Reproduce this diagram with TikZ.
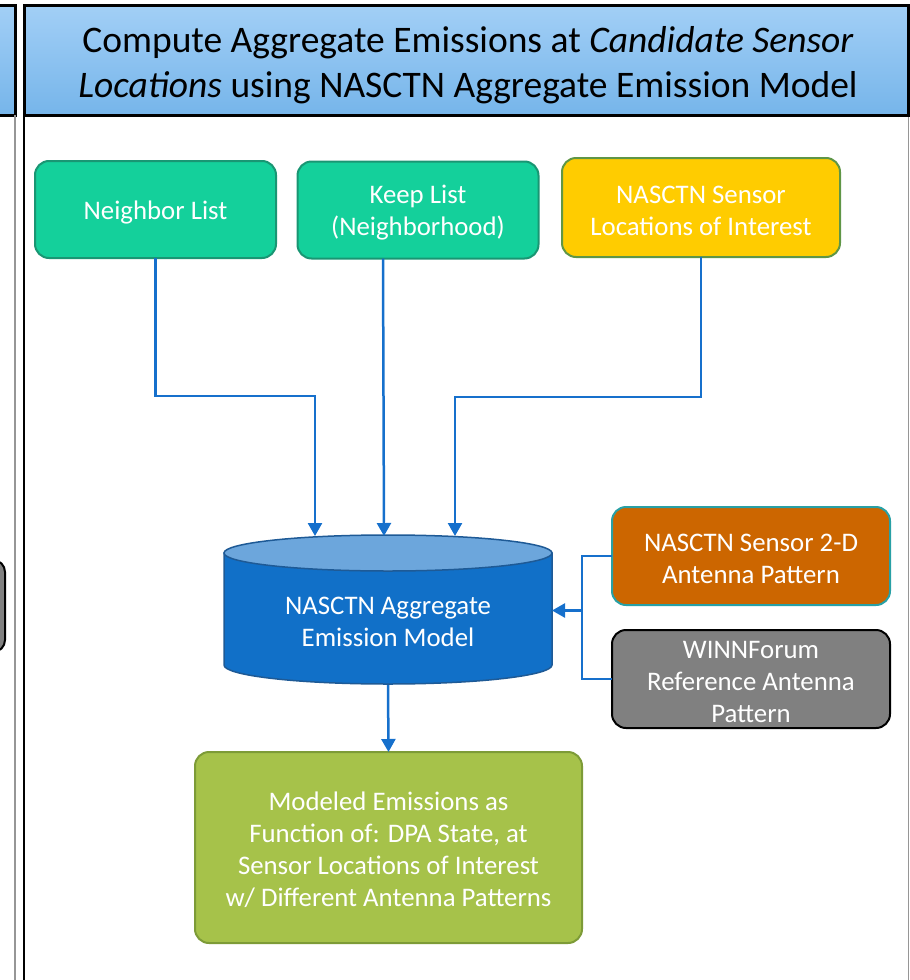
\documentclass[tikz,border=0pt]{standalone}
\usepackage{fontspec}
\setmainfont{Carlito}
\usetikzlibrary{arrows.meta,calc}
\definecolor{hdtop}{RGB}{162,207,246}
\definecolor{hdbot}{RGB}{118,181,234}
\definecolor{conn}{RGB}{22,112,204}
\definecolor{grfill}{RGB}{20,208,155}
\definecolor{grline}{RGB}{25,150,115}
\definecolor{yefill}{RGB}{255,204,0}
\definecolor{yeline}{RGB}{95,150,70}
\definecolor{orfill}{RGB}{204,102,0}
\definecolor{orline}{RGB}{40,160,165}
\definecolor{gyfill}{RGB}{128,128,128}
\definecolor{olfill}{RGB}{166,194,74}
\definecolor{olline}{RGB}{125,155,55}
\definecolor{cylbody}{RGB}{17,112,200}
\definecolor{cyltop}{RGB}{108,166,220}
\definecolor{cylline}{RGB}{30,90,150}
\definecolor{panelgray}{RGB}{150,150,150}
\begin{document}
\begin{tikzpicture}[x=1pt,y=-1pt,
  every node/.style={inner sep=0pt, outer sep=0pt},
  header/.style={top color=hdtop, bottom color=hdbot, draw=black, line width=3pt},
  rbox/.style={rounded corners=14pt, line width=2pt},
  boxtext/.style={text=white, align=center, font=\fontsize{26.8}{32}\selectfont},
  greenbox/.style={rbox, fill=grfill, draw=grline, minimum width=241pt, minimum height=97pt},
  link/.style={draw=conn, line width=2.5pt},
  arrowlink/.style={link, -{Triangle[length=13pt,width=14pt]}}
]
\useasboundingbox (0,0) rectangle (910,980);
\clip (0,0) rectangle (910,980);
% left partial panel
\path[header] (-40,5) rectangle (15,115);
\draw[panelgray, line width=2pt] (14.5,115) -- (14.5,985);
\draw[fill=gyfill, draw=black, line width=2pt, rounded corners=12pt] (-60,560) rectangle (5,652);
% main panel
\draw[black, line width=2.5pt] (24,5) -- (24,985);
\draw[panelgray, line width=1pt] (908.5,115) -- (908.5,985);
\node[header, minimum width=884pt, minimum height=110pt] (hdr) at (466,60) {};
\node[align=center, font=\fontsize{37.5}{45}\selectfont] (hdrtext) at (468,65)
  {Compute Aggregate Emissions at \textit{Candidate Sensor}\\ \textit{Locations} using NASCTN Aggregate Emission Model};
% top boxes
\node[greenbox] (nl) at (155.5,209.5) {};
\node[boxtext] (nlt) at ($(nl.center)+(0,3)$) {Neighbor List};
\node[greenbox] (kl) at (418,210) {};
\node[boxtext] (klt) at ($(kl.center)+(0,3)$) {Keep List\\(Neighborhood)};
\node[rbox, fill=yefill, draw=yeline, minimum width=278pt, minimum height=99pt] (sl) at (701,207.5) {};
\node[boxtext] (slt) at ($(sl.center)+(0,3)$) {NASCTN Sensor\\Locations of Interest};
% right boxes
\node[rbox, fill=orfill, draw=orline, minimum width=278pt, minimum height=98pt] (ap) at (751,556) {};
\node[boxtext] (apt) at ($(ap.center)+(0,3)$) {NASCTN Sensor 2-D\\Antenna Pattern};
\node[rbox, fill=gyfill, draw=black, minimum width=278pt, minimum height=98pt] (wf) at (751,679) {};
\node[boxtext] (wft) at ($(wf.center)+(0,3)$) {WINNForum\\Reference Antenna\\Pattern};
% bottom box
\node[rbox, fill=olfill, draw=olline, minimum width=387pt, minimum height=191pt] (me) at (388.5,847.5) {};
\node[boxtext] (met) at ($(me.center)+(0,2.5)$)
  {Modeled Emissions as\\Function of: DPA State, at\\Sensor Locations of Interest\\w/ Different Antenna Patterns};
% cylinder
\node[minimum width=328pt, minimum height=149pt] (cyl) at (388,610.5) {};
\draw[fill=cylbody, draw=cylline, line width=1.5pt]
  (224,553) -- (224,665) arc[start angle=180, end angle=360, x radius=164pt, y radius=19pt] -- (552,553) -- cycle;
\draw[fill=cyltop, draw=cylline, line width=1.5pt] (388,553) ellipse [x radius=164pt, y radius=18pt];
\node[boxtext] (cyltext) at (388,621.5) {NASCTN Aggregate\\Emission Model};
% connectors
\draw[arrowlink] (nl.south) -- (nl.south |- 0,396) -| ($(cyl.north)+(-73,0)$);
\draw[arrowlink] ($(kl.south)+(-35,0)$) -- ($(cyl.north)+(-4,0)$);
\draw[arrowlink] (sl.south) -- (sl.south |- 0,397) -| ($(cyl.north)+(67,0)$);
\coordinate (j) at (582,610.5);
\draw[link] (ap.west) -| (j) |- (wf.west);
\draw[arrowlink] (j) -- (cyl.east);
\draw[arrowlink] (cyl.south) -- (me.north);
\end{tikzpicture}
\end{document}
